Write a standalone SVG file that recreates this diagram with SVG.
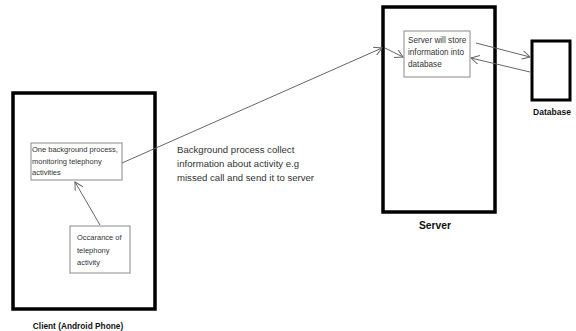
<svg xmlns="http://www.w3.org/2000/svg" width="576" height="331" viewBox="0 0 576 331">
<style>
.outer{fill:#fff;stroke:#000;stroke-width:3.5}
.inner{fill:#fff;stroke:#8a8a8a;stroke-width:1}
.t{font-family:"Liberation Sans",Arial,sans-serif;fill:#333}
.lbl{font-family:"Liberation Sans",Arial,sans-serif;font-weight:bold;fill:#111}
.c{fill:none;stroke:#666;stroke-width:1}
</style>
<defs>
<marker id="arr" viewBox="0 0 10 10" refX="9" refY="5" markerWidth="9" markerHeight="9" markerUnits="userSpaceOnUse" orient="auto">
<path d="M0,0 L9,5 L0,10" fill="none" stroke="#666" stroke-width="1.1"/>
</marker>
</defs>
<rect width="576" height="331" fill="#fff"/>
<g id="client">
<rect class="outer" x="13" y="93" width="142" height="216"/>
<text class="lbl" x="78" y="329" font-size="8.3" text-anchor="middle">Client (Android Phone)</text>
</g>
<g id="bgprocess">
<rect class="inner" x="31" y="143" width="91" height="37"/>
<text class="t" font-size="7.5"><tspan x="32" y="152">One background process,</tspan><tspan x="32" y="163.5">monitoring telephony</tspan><tspan x="32" y="175">activities</tspan></text>
</g>
<g id="occurrence">
<rect class="inner" x="70" y="226" width="60" height="47"/>
<text class="t" font-size="7.5"><tspan x="77" y="240">Occarance of</tspan><tspan x="77" y="252.5">telephony</tspan><tspan x="77" y="265">activity</tspan></text>
</g>
<g id="server">
<rect class="outer" x="383" y="7" width="112" height="205"/>
<text class="lbl" x="435" y="229" font-size="10.3" text-anchor="middle">Server</text>
</g>
<g id="store">
<rect class="inner" x="404" y="31" width="66" height="46"/>
<text class="t" font-size="8.2"><tspan x="408" y="43">Server will store</tspan><tspan x="408" y="55">information into</tspan><tspan x="408" y="67">database</tspan></text>
</g>
<g id="database">
<rect class="outer" x="532" y="41" width="38" height="59" style="stroke-width:3"/>
<text class="lbl" x="552" y="115" font-size="8.5" text-anchor="middle">Database</text>
</g>
<g id="connectors">
<line class="c" x1="100" y1="225" x2="75" y2="182" marker-end="url(#arr)"/>
<line class="c" x1="122" y1="163" x2="382" y2="48" marker-end="url(#arr)"/>
<line class="c" x1="385" y1="48" x2="403" y2="57" marker-end="url(#arr)"/>
<line class="c" x1="476" y1="43" x2="530" y2="57" marker-end="url(#arr)"/>
<line class="c" x1="530" y1="72" x2="471" y2="58" marker-end="url(#arr)"/>
<text class="t" font-size="9.6"><tspan x="177" y="152.5">Background process collect</tspan><tspan x="177" y="166.5">information about activity e.g</tspan><tspan x="177" y="180.5">missed call and send it to server</tspan></text>
</g>
</svg>
